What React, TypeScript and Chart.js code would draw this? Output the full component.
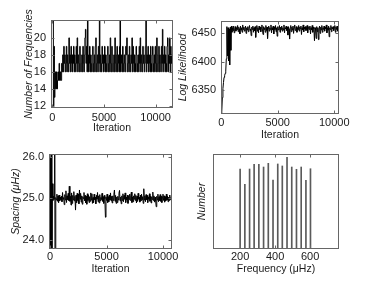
import React, { useEffect, useRef } from 'react';
import { Chart, registerables } from 'chart.js';

Chart.register(...registerables);

// ---------- data ----------
const ITER_STEP = 50;

// Number of frequencies per iteration (every 50 iterations)
const NUM_FREQ = [
  22, 22, 12, 19, 13, 14, 16, 14, 16, 14,
  15, 16, 15, 17, 15, 16, 15, 15, 17, 16,
  18, 16, 19, 17, 18, 16, 17, 19, 16, 18,
  17, 16, 20, 17, 18, 16, 19, 17, 16, 18,
  17, 19, 16, 18, 17, 16, 19, 17, 20, 16,
  18, 17, 16, 19, 18, 16, 17, 18, 16, 19,
  17, 16, 18, 20, 21, 17, 19, 16, 22, 18,
  16, 17, 19, 16, 18, 17, 16, 18, 19, 16,
  17, 18, 16, 19, 20, 16, 17, 18, 16, 19,
  17, 22, 16, 18, 17, 16, 19, 17, 18, 16,
  17, 19, 16, 18, 17, 16, 18, 19, 16, 17,
  18, 16, 20, 17, 16, 19, 18, 16, 17, 18,
  16, 20, 17, 16, 18, 19, 16, 17, 18, 16,
  19, 22, 16, 17, 18, 16, 19, 17, 16, 18,
  17, 16, 19, 18, 20, 16, 17, 18, 16, 19,
  17, 16, 18, 17, 20, 16, 19, 17, 16, 18,
  17, 16, 19, 18, 16, 17, 18, 16, 19, 17,
  20, 16, 18, 17, 16, 19, 17, 18, 16, 17,
  19, 22, 16, 18, 17, 19, 16, 18, 17, 16,
  19, 17, 16, 18, 19, 16, 17, 18, 16, 19,
  17, 16, 20, 18, 16, 17, 19, 16, 18, 17,
  16, 19, 17, 21, 16, 18, 17, 19, 16, 18,
  17, 16, 19, 20, 16, 18, 17, 20, 16, 19,
  17, 18, 16, 17,
];

// Log likelihood per iteration (every 50 iterations)
const LOG_LIKE = [
  6290, 6312, 6336, 6352, 6363, 6372, 6375, 6379, 6383, 6405,
  6462, 6410, 6460, 6401, 6458, 6394, 6461, 6420, 6463, 6452,
  6460, 6455, 6463, 6451, 6458, 6462, 6454, 6460, 6457, 6464,
  6453, 6461, 6458, 6449, 6463, 6456, 6460, 6452, 6465, 6457,
  6461, 6454, 6459, 6463, 6450, 6460, 6456, 6462, 6453, 6459,
  6464, 6455, 6458, 6446, 6461, 6457, 6463, 6452, 6460, 6455,
  6462, 6443, 6459, 6464, 6454, 6460, 6451, 6463, 6457, 6461,
  6453, 6460, 6465, 6456, 6448, 6462, 6457, 6460, 6452, 6464,
  6455, 6461, 6441, 6459, 6463, 6454, 6460, 6457, 6465, 6451,
  6460, 6456, 6463, 6449, 6461, 6457, 6464, 6453, 6460, 6445,
  6462, 6456, 6459, 6464, 6452, 6461, 6457, 6463, 6454, 6460,
  6456, 6465, 6451, 6460, 6458, 6463, 6455, 6461, 6447, 6462,
  6457, 6440, 6460, 6464, 6453, 6461, 6456, 6463, 6450, 6460,
  6465, 6455, 6459, 6462, 6452, 6460, 6457, 6464, 6454, 6461,
  6458, 6463, 6448, 6460, 6456, 6465, 6453, 6461, 6458, 6462,
  6455, 6460, 6464, 6451, 6459, 6462, 6457, 6463, 6449, 6460,
  6456, 6464, 6452, 6461, 6458, 6437, 6460, 6455, 6441, 6462,
  6453, 6460, 6439, 6458, 6463, 6450, 6461, 6456, 6464, 6452,
  6460, 6457, 6463, 6454, 6461, 6458, 6465, 6451, 6460, 6456,
  6463, 6444, 6460, 6457, 6464, 6453, 6461, 6458, 6462, 6455,
  6460, 6464, 6452, 6461, 6457, 6463, 6454, 6460, 6462,
];

// Large frequency separation (uHz) per iteration (every 50 iterations)
const SPACING = [
  29, 20, 30, 21, 25.35, 24.95, 25.05, 24.98, 28, 21,
  25.02, 24.96, 25.1, 24.93, 25.06, 24.9, 25.08, 24.94, 25.03, 24.97,
  25.05, 24.92, 25.14, 24.98, 25.02, 24.85, 25.09, 24.96, 25.18, 24.9,
  25.06, 24.97, 25.12, 24.95, 25.29, 24.93, 25.05, 24.84, 25.13, 24.88,
  25.07, 24.96, 25.16, 24.94, 25.05, 24.72, 25.08, 24.9, 25.12, 24.95,
  25.1, 24.87, 25.2, 24.98, 25.12, 24.91, 25.06, 24.86, 25.04, 24.99,
  25.14, 24.94, 25.07, 24.89, 25.05, 24.86, 25.11, 24.95, 25.08, 24.9,
  25.04, 24.93, 25.13, 24.96, 25.11, 24.88, 25.02, 24.9, 25.1, 24.97,
  25.03, 24.87, 25.07, 24.98, 25.14, 24.92, 25.06, 24.89, 25.09, 24.94,
  25.02, 24.97, 25.12, 24.93, 25.04, 24.88, 25.07, 24.99, 24.55, 25.03,
  24.95, 25.1, 24.9, 25.04, 24.92, 25.08, 24.96, 25.13, 24.94, 25.05,
  24.89, 25.06, 24.95, 25.1, 25.2, 24.93, 25.07, 24.88, 25.03, 24.9,
  25.05, 24.96, 25.12, 25.19, 24.94, 25.03, 24.87, 25.06, 24.95, 25.11,
  24.92, 25.07, 24.98, 25.13, 24.9, 25.03, 24.96, 25.08, 24.88, 25.05,
  24.97, 25.1, 24.95, 25.07, 25.15, 24.9, 25.03, 24.92, 25.06, 24.98,
  25.11, 24.95, 25.07, 24.89, 25.05, 24.93, 25.12, 24.98, 25.03, 24.91,
  25.08, 24.94, 25.1, 24.97, 25.04, 24.88, 25.23, 24.96, 25.06, 24.92,
  25.09, 24.97, 25.07, 24.9, 25.03, 24.98, 25.11, 24.93, 25.05, 24.89,
  25.04, 24.97, 25.15, 24.95, 25.06, 24.91, 25.03, 24.94, 24.8, 25.05,
  24.96, 25.1, 24.92, 25.04, 24.95, 25.09, 24.93, 25.05, 24.9, 25.03,
  25.1, 24.95, 25.06, 24.91, 25.04, 24.94, 25.1, 24.96, 25.05, 24.92,
  25.03, 24.95, 25.08, 24.97, 25.02,
];

// Histogram of frequencies
const HIST_FREQ = [200, 227, 254, 280, 307, 334, 361, 388, 415, 441, 468, 495, 522, 549, 576, 602];
const HIST_COUNT = [842, 681, 842, 891, 891, 863, 902, 726, 895, 874, 965, 863, 839, 863, 723, 845];

const ITER_TICKS = [0, 5000, 10000];
const NUM_FREQ_TICKS = [12, 14, 16, 18, 20];
const LOG_LIKE_TICKS = [6350, 6400, 6450];
const SPACING_TICKS = [24, 25, 26];
const FREQ_TICKS = [200, 400, 600];

// ---------- styling ----------
const FONT = "'Liberation Sans', Arial, Helvetica, sans-serif";
const TXT = '#1a1a1a';
const FRAME = '#666666';

const framePlugin = {
  id: 'frame',
  afterDraw(chart: any, _args: any, opts: any) {
    const { ctx, chartArea: a, scales } = chart;
    ctx.save();
    ctx.strokeStyle = opts.color || FRAME;
    ctx.lineWidth = 1;
    const l = Math.round(a.left) + 0.5;
    const r = Math.round(a.right) - 0.5;
    const t = Math.round(a.top) + 0.5;
    const b = Math.round(a.bottom) - 0.5;
    ctx.strokeRect(l, t, r - l, b - t);
    const len = 3;
    ctx.beginPath();
    if (!opts.noX) {
      scales.x.ticks.forEach((tk: any) => {
        const p = Math.round(scales.x.getPixelForValue(tk.value)) + 0.5;
        ctx.moveTo(p, b); ctx.lineTo(p, b - len);
        ctx.moveTo(p, t); ctx.lineTo(p, t + len);
      });
    }
    if (!opts.noY) {
      scales.y.ticks.forEach((tk: any) => {
        const p = Math.round(scales.y.getPixelForValue(tk.value)) + 0.5;
        ctx.moveTo(l, p); ctx.lineTo(l + len, p);
        ctx.moveTo(r, p); ctx.lineTo(r - len, p);
      });
    }
    ctx.stroke();
    ctx.restore();
  },
};

type Geo = {
  padTop: number; padRight: number; yW: number; xH: number;
  yTitlePad: number; xTitlePad: number; xTickPad: number; yTickPad: number;
};

function makeConfig(p: {
  type: string; datasets: any[]; geo: Geo;
  xMin: number; xMax: number; xTicks: number[]; xTitle: string;
  yMin: number; yMax: number; yTicks: number[] | null; yTitle: string;
  yFmt?: (v: number) => string;
}) {
  const g = p.geo;
  return {
    type: p.type,
    data: { datasets: p.datasets },
    options: {
      animation: false,
      responsive: false,
      devicePixelRatio: 1,
      events: [],
      layout: { padding: { top: g.padTop, right: g.padRight, left: 0, bottom: 0 } },
      plugins: {
        legend: { display: false },
        tooltip: { enabled: false },
        frame: { color: FRAME, noY: !p.yTicks },
      },
      scales: {
        x: {
          type: 'linear',
          min: p.xMin,
          max: p.xMax,
          offset: false,
          grid: { display: false, drawTicks: false, tickLength: 0 },
          border: { display: false },
          afterBuildTicks: (s: any) => { s.ticks = p.xTicks.map((v) => ({ value: v })); },
          afterFit: (s: any) => { s.height = g.xH; },
          ticks: {
            color: TXT,
            font: { family: FONT, size: 11 },
            padding: g.xTickPad,
            maxRotation: 0,
            autoSkip: false,
            callback: (v: any) => String(v),
          },
          title: {
            display: true,
            text: p.xTitle,
            color: TXT,
            font: { family: FONT, size: 10.5 },
            padding: { top: 0, bottom: g.xTitlePad },
          },
        },
        y: {
          type: 'linear',
          min: p.yMin,
          max: p.yMax,
          grid: { display: false, drawTicks: false, tickLength: 0 },
          border: { display: false },
          afterBuildTicks: (s: any) => {
            if (p.yTicks) s.ticks = p.yTicks.map((v) => ({ value: v }));
          },
          afterFit: (s: any) => { s.width = g.yW; },
          ticks: {
            display: !!p.yTicks,
            color: TXT,
            font: { family: FONT, size: 11 },
            padding: g.yTickPad,
            autoSkip: false,
            callback: (v: any) => (p.yFmt ? p.yFmt(v) : String(v)),
          },
          title: {
            display: true,
            text: p.yTitle,
            color: TXT,
            font: { family: FONT, size: 10.5, style: 'italic' },
            padding: { top: g.yTitlePad, bottom: 0 },
          },
        },
      },
    },
    plugins: [framePlugin],
  };
}

const toXY = (vals: number[]) => vals.map((v, i) => ({ x: i * ITER_STEP, y: v }));

const lineDs = (vals: number[], stepped = false) => ({
  data: toXY(vals),
  borderColor: '#000000',
  borderWidth: 1,
  pointRadius: 0,
  stepped,
  tension: 0,
  fill: false,
});

type Box = { x: number; y: number; w: number; h: number };

function Panel({ box, build }: { box: Box; build: () => any }) {
  const ref = useRef<HTMLCanvasElement | null>(null);
  useEffect(() => {
    const chart = new Chart(ref.current as HTMLCanvasElement, build());
    return () => chart.destroy();
  }, []);
  return (
    <canvas
      ref={ref}
      width={box.w}
      height={box.h}
      style={{ position: 'absolute', left: box.x, top: box.y, width: box.w, height: box.h }}
    />
  );
}

export default function App() {
  return (
    <div style={{ position: 'absolute', left: 0, top: 0, width: 374, height: 281, background: '#ffffff', overflow: 'hidden' }}>
      <Panel
        box={{ x: 0, y: 0, w: 187, h: 141 }}
        build={() =>
          makeConfig({
            type: 'line',
            datasets: [lineDs(NUM_FREQ, true)],
            geo: { padTop: 20, padRight: 14, yW: 51, xH: 33, yTitlePad: 23, xTitlePad: 7, xTickPad: 3, yTickPad: 5 },
            xMin: -130, xMax: 11680, xTicks: ITER_TICKS, xTitle: 'Iteration',
            yMin: 11.75, yMax: 22.1, yTicks: NUM_FREQ_TICKS, yTitle: 'Number of Frequencies',
          })
        }
      />
      <Panel
        box={{ x: 176, y: 0, w: 198, h: 141 }}
        build={() =>
          makeConfig({
            type: 'line',
            datasets: [lineDs(LOG_LIKE)],
            geo: { padTop: 21, padRight: 35, yW: 45, xH: 27, yTitlePad: 1, xTitlePad: 0, xTickPad: 2, yTickPad: 5 },
            xMin: -20, xMax: 10420, xTicks: ITER_TICKS, xTitle: 'Iteration',
            yMin: 6307, yMax: 6472, yTicks: LOG_LIKE_TICKS, yTitle: 'Log Likelihood',
          })
        }
      />
      <Panel
        box={{ x: 0, y: 140, w: 187, h: 141 }}
        build={() =>
          makeConfig({
            type: 'line',
            datasets: [lineDs(SPACING)],
            geo: { padTop: 14, padRight: 15, yW: 49, xH: 32, yTitlePad: 10, xTitlePad: 6, xTickPad: 1.5, yTickPad: 5 },
            xMin: -100, xMax: 10800, xTicks: ITER_TICKS, xTitle: 'Iteration',
            yMin: 23.79, yMax: 26.06, yTicks: SPACING_TICKS, yTitle: 'Spacing (μHz)',
            yFmt: (v) => Number(v).toFixed(1),
          })
        }
      />
      <Panel
        box={{ x: 176, y: 140, w: 198, h: 141 }}
        build={() =>
          makeConfig({
            type: 'bar',
            datasets: [
              {
                data: HIST_FREQ.map((f, i) => ({ x: f, y: HIST_COUNT[i] })),
                backgroundColor: '#5a5a5a',
                borderWidth: 0,
                barThickness: 1,
              },
            ],
            geo: { padTop: 14, padRight: 35, yW: 37, xH: 32, yTitlePad: 20, xTitlePad: 6, xTickPad: 1, yTickPad: 5 },
            xMin: 45, xMax: 765, xTicks: FREQ_TICKS, xTitle: 'Frequency (μHz)',
            yMin: 0, yMax: 1000, yTicks: null, yTitle: 'Number',
          })
        }
      />
    </div>
  );
}
